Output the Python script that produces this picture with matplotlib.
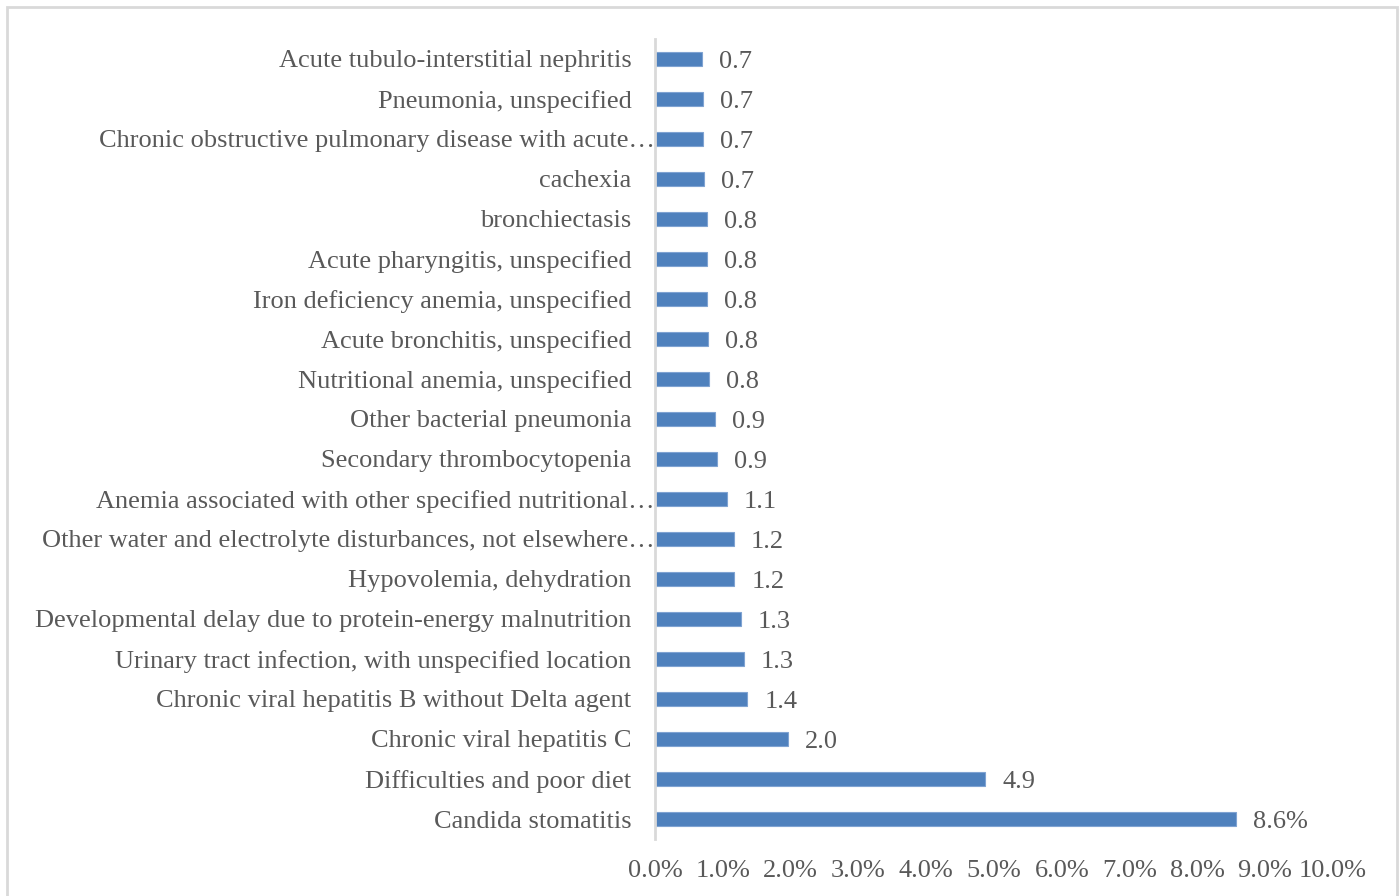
import matplotlib
matplotlib.use('Agg')
import matplotlib.pyplot as plt
import matplotlib.transforms as mtransforms
from matplotlib.patches import Rectangle

plt.rcParams['font.family'] = ['Liberation Serif', 'DejaVu Serif']

# diagnoses, bottom to top (share of patients, %)
diagnoses = [
    'Candida stomatitis',
    'Difficulties and poor diet',
    'Chronic viral hepatitis C',
    'Chronic viral hepatitis B without Delta agent',
    'Urinary tract infection, with unspecified location',
    'Developmental delay due to protein-energy malnutrition',
    'Hypovolemia, dehydration',
    'Other water and electrolyte disturbances, not elsewhere…',
    'Anemia associated with other specified nutritional…',
    'Secondary thrombocytopenia',
    'Other bacterial pneumonia',
    'Nutritional anemia, unspecified',
    'Acute bronchitis, unspecified',
    'Iron deficiency anemia, unspecified',
    'Acute pharyngitis, unspecified',
    'bronchiectasis',
    'cachexia',
    'Chronic obstructive pulmonary disease with acute…',
    'Pneumonia, unspecified',
    'Acute tubulo-interstitial nephritis',
]
shares = [8.57, 4.87, 1.96, 1.36, 1.31, 1.26, 1.17, 1.16, 1.06, 0.91,
          0.88, 0.80, 0.78, 0.76, 0.76, 0.76, 0.72, 0.71, 0.70, 0.69]
xticks = [0, 1, 2, 3, 4, 5, 6, 7, 8, 9, 10]

bar_color = '#4F81BD'
text_color = '#595959'
fs = 19

fig = plt.figure(figsize=(14, 8.96), dpi=100)
ax = fig.add_axes([0.468, 0.0636, 0.484, 0.893])

y = list(range(len(diagnoses)))
ax.barh(y, shares, height=0.36, color=bar_color, edgecolor='#7FA3D2', linewidth=0.8)

for i, v in enumerate(shares):
    lab = '%.1f%%' % v if i == 0 else '%.1f' % v
    ax.annotate(lab, (v, i), xytext=(17, -3), textcoords='offset pixels',
                ha='left', va='center', fontsize=fs, color=text_color)

ax.set_ylim(-0.5, len(diagnoses) - 0.5)
ax.set_xlim(0, 10)
ax.set_xticks(xticks)
ax.set_xticklabels(['%.1f%%' % t for t in xticks], fontsize=fs, color=text_color)
ax.set_yticks(y)
ax.set_yticklabels(diagnoses, fontsize=fs, color=text_color)
ax.tick_params(axis='both', length=0)
ax.tick_params(axis='y', pad=17)
ax.tick_params(axis='x', pad=15)

# truncated names run right up to the axis
for lbl in ax.get_yticklabels():
    if lbl.get_text().endswith('…'):
        lbl.set_transform(lbl.get_transform() + mtransforms.ScaledTranslation(23 / 100, 0, fig.dpi_scale_trans))

for side in ['top', 'right', 'bottom']:
    ax.spines[side].set_visible(False)
ax.spines['left'].set_color('#D9D9D9')
ax.spines['left'].set_linewidth(2)

# chart border
fig.patches.append(Rectangle((7 / 1400, -0.01), 1390 / 1400, 1 - 7 / 896 + 0.01,
                             transform=fig.transFigure, fill=False,
                             edgecolor='#D9D9D9', linewidth=2))

fig.savefig('out.png', dpi=100)
